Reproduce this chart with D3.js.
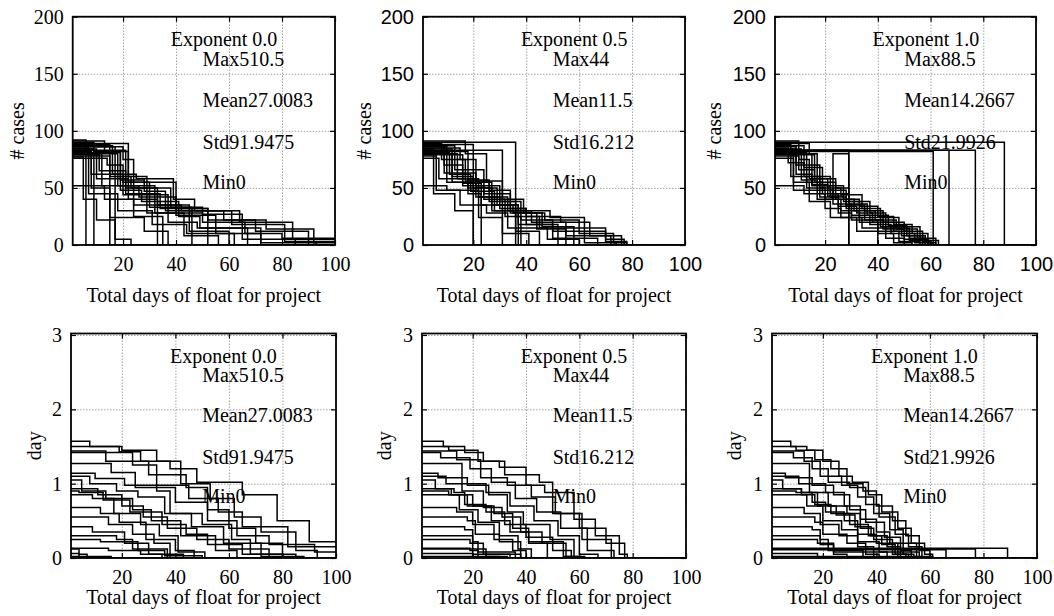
<!DOCTYPE html>
<html>
<head>
<meta charset="utf-8">
<script src="https://cdn.jsdelivr.net/npm/d3@7"></script>
<style>
  body { margin: 0; background: #fff; }
  svg { display: block; }
</style>
</head>
<body>
<svg id="chart"></svg>
<script>
// ---- data ----
var exponents = ["0.0", "0.5", "1.0"];
var statMax = ["510.5", "44", "88.5"];
var statMean = ["27.0083", "11.5", "14.2667"];
var statStd = ["91.9475", "16.212", "21.9926"];
var statMin = ["0", "0", "0"];

var floatTicks = [20, 40, 60, 80, 100];
var casesTicks = [0, 50, 100, 150, 200];
var dayTicks = [0, 1, 2, 3];

// each series: [x, y] where y holds from x until the next step
var casesExp00 = [
  [[1,92],[6,0]],
  [[1,90],[9,0]],
  [[1,88],[15,0]],
  [[1,86],[17,0]],
  [[1,84],[10,58],[22,40],[33,0]],
  [[1,82],[8,62],[20,55],[30,33],[46,0]],
  [[1,89],[22,55],[40,32],[52,0]],
  [[1,80],[12,52],[26,42],[40,26],[55,10],[72,0]],
  [[1,78],[15,60],[23,50],[38,33],[50,27],[65,5],[85,0]],
  [[1,81],[19,57],[28,47],[36,30],[58,22],[70,12],[90,0]],
  [[1,83],[21,50],[33,35],[42,30],[61,18],[81,3]],
  [[1,85],[7,45],[18,30],[31,18],[44,10],[62,0]],
  [[1,76],[14,70],[20,44],[37,20],[48,15],[67,0]],
  [[1,52],[13,40],[24,25],[35,0]],
  [[1,87],[16,62],[25,58],[39,40],[47,30],[64,20],[84,5]],
  [[1,79],[11,65],[21,45],[34,32],[52,22],[74,14],[92,2]],
  [[1,91],[13,82],[22,60],[29,28],[43,8],[56,0]],
  [[1,77],[5,40],[10,22],[17,5],[23,0]],
  [[1,84],[9,82],[19,48],[27,38],[41,25],[49,15],[72,2],[93,0]],
  [[1,80],[18,52],[32,28],[50,20],[66,10],[80,6]],
  [[1,86],[20,75],[24,35],[45,12],[60,0]],
  [[1,82],[8,50],[15,24],[28,12],[37,0]]
];
var casesExp05 = [
  [[1,90],[36,0]],
  [[1,83],[31,0]],
  [[1,88],[20,0]],
  [[1,86],[10,55],[18,45],[23,0]],
  [[1,84],[12,60],[20,50],[27,35],[37,0]],
  [[1,82],[9,70],[16,52],[24,40],[32,25],[38,0]],
  [[1,80],[14,58],[22,42],[30,32],[40,18],[52,0]],
  [[1,78],[6,48],[15,35],[25,28],[33,15],[48,5],[60,0]],
  [[1,89],[8,75],[17,56],[26,38],[36,25],[45,15],[62,2],[74,0]],
  [[1,81],[11,62],[19,47],[28,30],[38,22],[50,12],[70,3],[78,0]],
  [[1,85],[15,75],[21,42],[33,30],[42,20],[55,8],[72,0]],
  [[1,76],[7,58],[18,50],[29,35],[35,28],[46,16],[58,0]],
  [[1,52],[10,48],[22,24],[31,10],[41,0]],
  [[1,87],[13,66],[24,45],[34,32],[40,25],[53,20],[64,8],[76,0]],
  [[1,79],[16,54],[23,35],[37,18],[50,6],[67,0]],
  [[1,91],[17,80],[25,56],[31,40],[39,28],[47,22],[60,10],[73,2],[78,0]],
  [[1,84],[5,45],[13,30],[20,0]],
  [[1,80],[12,55],[27,30],[36,12],[45,0]],
  [[1,82],[18,57],[26,48],[34,28],[44,14],[55,0]],
  [[1,86],[9,63],[21,52],[30,38],[38,30],[49,24],[62,15],[70,5],[77,0]]
];
var casesExp10 = [
  [[1,90],[88,0]],
  [[1,83],[77,0]],
  [[1,82],[61,0]],
  [[1,83],[67,0]],
  [[1,83],[29,0]],
  [[1,76],[8,48],[17,40],[23,80],[29,0]],
  [[1,88],[7,60],[13,50],[20,40],[26,30],[33,20],[40,12],[48,3],[56,0]],
  [[1,86],[9,62],[15,52],[22,42],[28,32],[35,22],[42,14],[50,5],[59,0]],
  [[1,84],[11,57],[17,48],[23,36],[30,26],[37,18],[45,10],[54,2],[61,0]],
  [[1,81],[13,55],[19,45],[25,34],[32,28],[38,20],[46,12],[52,4],[60,0]],
  [[1,80],[15,53],[21,43],[27,38],[33,24],[41,16],[49,8],[57,0]],
  [[1,78],[10,66],[16,55],[24,40],[31,30],[39,22],[47,14],[55,6],[62,0]],
  [[1,52],[12,45],[20,32],[26,24],[34,15],[43,6],[50,0]],
  [[1,89],[14,80],[17,58],[24,50],[29,36],[36,26],[44,17],[51,8],[58,0]],
  [[1,85],[6,72],[12,60],[18,42],[25,28],[30,22],[40,10],[46,2],[53,0]],
  [[1,79],[16,70],[18,50],[26,44],[34,32],[41,24],[48,16],[56,4],[63,0]],
  [[1,91],[10,75],[14,58],[21,48],[28,35],[35,30],[42,20],[50,12],[57,3],[60,0]],
  [[1,82],[8,55],[14,38],[22,24],[32,12],[40,0]],
  [[1,87],[12,68],[19,52],[27,40],[33,34],[40,25],[46,18],[53,10],[59,2],[62,0]],
  [[1,84],[9,70],[16,60],[22,45],[29,38],[37,28],[43,15],[52,6],[58,0]]
];
var dayExp00 = [
  [[1,1.57],[8,1.5],[20,1.45],[33,1.3],[42,1.0],[53,0.8],[62,0.55],[72,0.35],[85,0.1],[93,0]],
  [[1,1.5],[19,1.43],[27,1.3],[38,1.2],[48,1.02],[65,0.85],[78,0.5],[90,0.22]],
  [[1,1.44],[14,1.3],[30,1.12],[44,0.95],[52,0.65],[60,0.4],[70,0.2],[80,0]],
  [[1,1.42],[24,1.25],[33,0.98],[45,0.8],[56,0.62],[65,0.42],[82,0.15]],
  [[1,1.27],[16,1.15],[25,0.95],[40,0.75],[52,0.5],[63,0.3],[75,0.18],[92,0.08]],
  [[1,1.14],[10,1.07],[21,0.98],[33,0.9],[38,0.6],[50,0.45],[61,0.25],[68,0.05],[85,0]],
  [[1,1.1],[8,1.0],[18,0.9],[26,0.82],[36,0.6],[46,0.42],[58,0.2],[72,0.02],[88,0]],
  [[1,1.05],[5,0.9],[14,0.8],[24,0.65],[31,0.5],[42,0.3],[55,0.1],[63,0]],
  [[1,0.93],[11,0.85],[20,0.7],[28,0.55],[37,0.4],[48,0.25],[60,0.12],[75,0]],
  [[1,0.9],[4,0.88],[13,0.78],[23,0.62],[35,0.45],[44,0.32],[52,0.18],[65,0.05],[80,0]],
  [[1,0.85],[9,0.8],[17,0.6],[27,0.45],[34,0.3],[41,0.08],[51,0]],
  [[1,0.68],[12,0.6],[19,0.48],[29,0.25],[40,0.1],[47,0]],
  [[1,0.55],[15,0.45],[24,0.32],[32,0.2],[38,0]],
  [[1,0.42],[9,0.35],[21,0.2],[30,0.05],[35,0]],
  [[1,0.3],[18,0.25],[24,0.12],[37,0]],
  [[1,0.25],[12,0.22],[26,0.1],[36,0.03],[50,0]],
  [[1,0.13],[15,0.1],[27,0.05],[43,0]],
  [[1,0.12],[4,0.05],[7,0]],
  [[1,0.06],[4,0]],
  [[1,0.02],[16,0]]
];
var dayExp05 = [
  [[1,1.57],[9,1.5],[17,1.42],[24,1.3],[32,1.12],[45,1.02],[50,0.6],[60,0.4],[70,0.2],[77,0]],
  [[1,1.5],[11,1.45],[22,1.3],[30,1.22],[40,0.98],[47,0.88],[58,0.52],[66,0.3],[75,0.05],[78,0]],
  [[1,1.44],[14,1.32],[23,1.08],[33,0.98],[42,0.82],[51,0.6],[61,0.25],[72,0]],
  [[1,1.42],[8,1.35],[19,1.2],[27,1.02],[36,0.8],[44,0.62],[53,0.4],[63,0.1],[73,0]],
  [[1,1.27],[16,1.0],[25,0.88],[34,0.7],[43,0.5],[52,0.3],[60,0.05],[67,0]],
  [[1,1.14],[7,1.08],[18,0.98],[26,0.85],[33,0.62],[39,0.45],[49,0.25],[58,0]],
  [[1,1.1],[10,1.0],[16,0.9],[24,0.68],[31,0.55],[38,0.35],[46,0.2],[55,0.02],[62,0]],
  [[1,1.05],[6,0.93],[12,0.85],[20,0.7],[28,0.6],[35,0.4],[41,0.2],[48,0]],
  [[1,0.93],[13,0.88],[17,0.72],[25,0.62],[32,0.45],[40,0.28],[50,0.1],[57,0]],
  [[1,0.9],[11,0.85],[18,0.7],[27,0.5],[34,0.35],[41,0.22],[54,0.02],[60,0]],
  [[1,0.85],[15,0.65],[22,0.48],[30,0.3],[37,0.12],[42,0]],
  [[1,0.68],[14,0.62],[20,0.45],[28,0.25],[35,0.1],[40,0]],
  [[1,0.55],[18,0.5],[21,0.32],[30,0.22],[38,0]],
  [[1,0.42],[17,0.38],[20,0.12],[25,0.02],[30,0]],
  [[1,0.3],[20,0.22],[22,0.08],[36,0]],
  [[1,0.25],[19,0.2],[24,0.05],[34,0]],
  [[1,0.13],[19,0.1],[22,0]],
  [[1,0.12],[20,0.05],[38,0]],
  [[1,0.06],[20,0]],
  [[1,0.02],[33,0]]
];
var dayExp10 = [
  [[1,0.13],[89,0]],
  [[1,0.12],[77,0]],
  [[1,0.11],[66,0]],
  [[1,0.02],[61,0]],
  [[1,1.57],[8,1.5],[14,1.45],[20,1.3],[26,1.1],[31,1.02],[37,0.85],[42,0.62],[48,0.4],[53,0.2],[58,0.05],[61,0]],
  [[1,1.5],[10,1.45],[17,1.32],[23,1.2],[29,1.0],[35,0.9],[40,0.7],[46,0.5],[51,0.3],[56,0.1],[60,0]],
  [[1,1.44],[13,1.3],[19,1.1],[27,0.98],[33,0.82],[39,0.6],[45,0.38],[50,0.2],[55,0]],
  [[1,1.42],[9,1.35],[16,1.2],[22,1.02],[30,0.95],[36,0.72],[41,0.55],[47,0.32],[52,0.15],[57,0]],
  [[1,1.27],[15,1.0],[21,0.88],[28,0.7],[34,0.52],[40,0.35],[45,0.2],[50,0.05],[54,0]],
  [[1,1.14],[6,1.08],[16,0.98],[24,0.85],[30,0.65],[36,0.48],[43,0.28],[49,0.1],[53,0]],
  [[1,1.1],[11,1.0],[15,0.88],[22,0.7],[29,0.6],[34,0.4],[39,0.25],[46,0.05],[51,0]],
  [[1,1.05],[5,0.93],[12,0.88],[18,0.7],[25,0.58],[32,0.42],[38,0.3],[44,0.15],[49,0]],
  [[1,0.93],[12,0.85],[17,0.72],[23,0.6],[30,0.45],[37,0.3],[42,0.18],[47,0.05],[52,0]],
  [[1,0.9],[10,0.88],[16,0.75],[21,0.62],[28,0.5],[33,0.32],[40,0.2],[48,0.08],[56,0]],
  [[1,0.85],[14,0.7],[20,0.5],[27,0.38],[33,0.22],[41,0.08],[48,0]],
  [[1,0.68],[13,0.6],[19,0.45],[26,0.3],[33,0.15],[39,0]],
  [[1,0.55],[17,0.48],[20,0.32],[29,0.2],[36,0.05],[41,0]],
  [[1,0.42],[16,0.38],[19,0.18],[24,0.05],[29,0]],
  [[1,0.3],[19,0.25],[22,0.1],[35,0]],
  [[1,0.25],[18,0.2],[24,0.08],[44,0]],
  [[1,0.06],[18,0]]
];

// ---- layout ----
var W = 1054, H = 616;
var serif = "'Liberation Serif', 'Times New Roman', serif";
var sans = "'Liberation Sans', Arial, sans-serif";
var fontSize = 20;

var panels = [
  {x0: 72.7, x1: 335, y0: 16.7, y1: 245, data: casesExp00, k: 0, yMax: 200, ticks: casesTicks, ylabel: "# cases", tickFont: serif, ylabOff: 49, xlabOff: 57},
  {x0: 423, x1: 685, y0: 16.7, y1: 245, data: casesExp05, k: 1, yMax: 200, ticks: casesTicks, ylabel: "# cases", tickFont: sans, ylabOff: 52, xlabOff: 57},
  {x0: 775, x1: 1036, y0: 16.7, y1: 245, data: casesExp10, k: 2, yMax: 200, ticks: casesTicks, ylabel: "# cases", tickFont: sans, ylabOff: 54, xlabOff: 57},
  {x0: 71, x1: 336, y0: 333.5, y1: 558, data: dayExp00, k: 0, yMax: 3.02, ticks: dayTicks, ylabel: "day", tickFont: serif, ylabOff: 30, xlabOff: 46},
  {x0: 422, x1: 686, y0: 333.5, y1: 558, data: dayExp05, k: 1, yMax: 3.02, ticks: dayTicks, ylabel: "day", tickFont: serif, ylabOff: 31, xlabOff: 46},
  {x0: 772, x1: 1037, y0: 333.5, y1: 558, data: dayExp10, k: 2, yMax: 3.02, ticks: dayTicks, ylabel: "day", tickFont: serif, ylabOff: 31, xlabOff: 46}
];
// annotation rows: fraction of the y range where each baseline sits
var annoFrac = [0.87, 0.785, 0.605, 0.42, 0.245];

var svg = d3.select("#chart").attr("width", W).attr("height", H);
svg.append("rect").attr("width", W).attr("height", H).attr("fill", "#fff");

panels.forEach(function (p, i) {
  var x = d3.scaleLinear().domain([1, 100]).range([p.x0, p.x1]);
  var y = d3.scaleLinear().domain([0, p.yMax]).range([p.y1, p.y0]);
  var w = p.x1 - p.x0, h = p.y1 - p.y0;
  var g = svg.append("g");

  // grid
  g.append("g")
    .attr("transform", "translate(0," + p.y1 + ")")
    .call(d3.axisBottom(x).tickValues(floatTicks).tickSize(-h).tickFormat(""))
    .call(function (s) {
      s.select(".domain").remove();
      s.selectAll("line").attr("stroke", "#999").attr("stroke-width", 0.9).attr("stroke-dasharray", "1.5,1.5");
    });
  g.append("g")
    .attr("transform", "translate(" + p.x0 + ",0)")
    .call(d3.axisLeft(y).tickValues(p.ticks).tickSize(-w).tickFormat(""))
    .call(function (s) {
      s.select(".domain").remove();
      s.selectAll("line").attr("stroke", "#999").attr("stroke-width", 0.9).attr("stroke-dasharray", "1.5,1.5");
    });

  // lines
  var clipId = "clip" + i;
  svg.append("clipPath").attr("id", clipId).append("rect")
    .attr("x", p.x0).attr("y", p.y0 - 1).attr("width", w).attr("height", h + 1);
  var line = d3.line().x(function (d) { return x(d[0]); }).y(function (d) { return y(d[1]); })
    .curve(d3.curveStepAfter);
  g.append("g").attr("clip-path", "url(#" + clipId + ")")
    .selectAll("path").data(p.data).enter().append("path")
    .attr("d", function (s) { return line(s.concat([[100, s[s.length - 1][1]]])); })
    .attr("fill", "none").attr("stroke", "#000").attr("stroke-width", 1.5);

  // axes with inward ticks
  var xAx = g.append("g").attr("transform", "translate(0," + p.y1 + ")")
    .call(d3.axisBottom(x).tickValues(floatTicks).tickSize(-5).tickPadding(12));
  var yAx = g.append("g").attr("transform", "translate(" + p.x0 + ",0)")
    .call(d3.axisLeft(y).tickValues(p.ticks).tickSize(-5).tickPadding(9).tickFormat(d3.format("d")));
  g.append("g").attr("transform", "translate(0," + p.y0 + ")")
    .call(d3.axisTop(x).tickValues(floatTicks).tickSize(-5).tickFormat(""));
  g.append("g").attr("transform", "translate(" + p.x1 + ",0)")
    .call(d3.axisRight(y).tickValues(p.ticks).tickSize(-5).tickFormat(""));
  g.selectAll(".domain").remove();
  g.selectAll(".tick line").filter(function () { return this.getAttribute("stroke") === "currentColor"; })
    .attr("stroke", "#000").attr("stroke-width", 1.2);
  [xAx, yAx].forEach(function (a) {
    a.selectAll("text").attr("font-family", p.tickFont).attr("font-size", fontSize).attr("fill", "#000");
  });

  // frame
  g.append("rect").attr("x", p.x0).attr("y", p.y0).attr("width", w).attr("height", h)
    .attr("fill", "none").attr("stroke", "#000").attr("stroke-width", 1.8);

  // labels
  g.append("text")
    .attr("transform", "translate(" + (p.x0 - p.ylabOff) + "," + ((p.y0 + p.y1) / 2) + ") rotate(-90)")
    .attr("text-anchor", "middle").attr("font-family", serif).attr("font-size", fontSize)
    .text(p.ylabel);
  g.append("text")
    .attr("x", (p.x0 + p.x1) / 2).attr("y", p.y1 + p.xlabOff)
    .attr("text-anchor", "middle").attr("font-family", serif).attr("font-size", fontSize)
    .text("Total days of float for project");

  // annotations
  var anno = [
    {tx: 38, s: "Exponent " + exponents[p.k]},
    {tx: 50, s: "Max" + statMax[p.k]},
    {tx: 50, s: "Mean" + statMean[p.k]},
    {tx: 50, s: "Std" + statStd[p.k]},
    {tx: 50, s: "Min" + statMin[p.k]}
  ];
  g.selectAll("text.anno").data(anno).enter().append("text")
    .attr("class", "anno")
    .attr("x", function (d) { return x(d.tx); })
    .attr("y", function (d, j) { return y(p.yMax * annoFrac[j]); })
    .attr("font-family", serif).attr("font-size", fontSize)
    .text(function (d) { return d.s; });
});
</script>
</body>
</html>
